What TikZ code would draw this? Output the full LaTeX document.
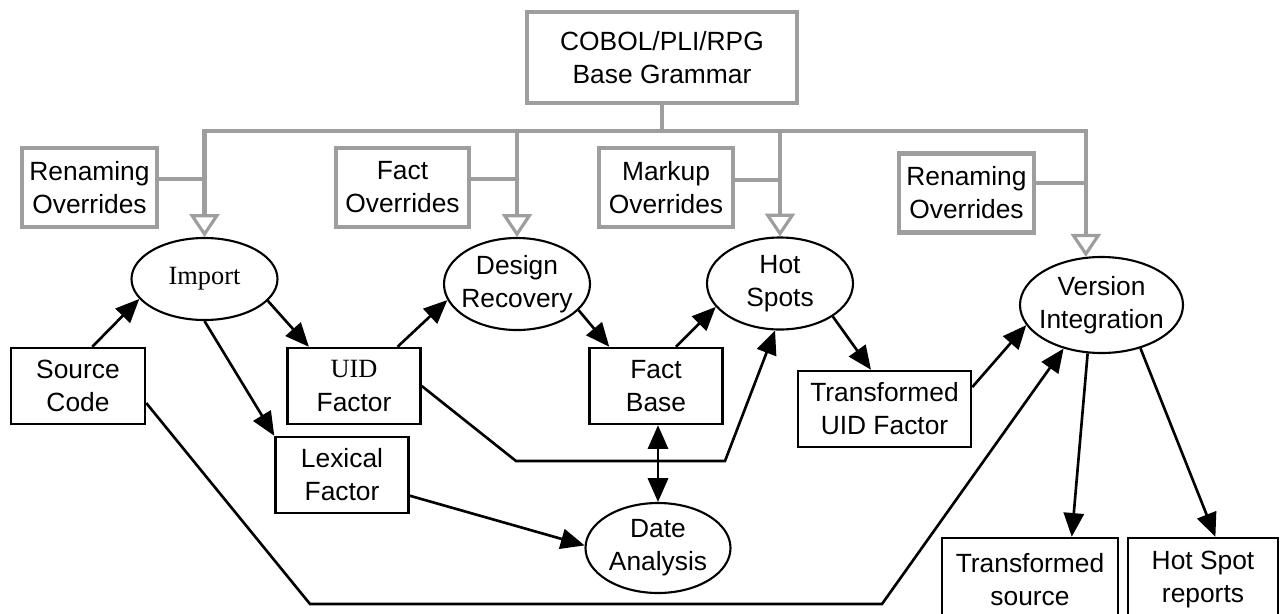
\documentclass[tikz,border=0pt]{standalone}
\usepackage{fontspec}
\setmainfont{Liberation Sans}
\newfontfamily\serifface{Liberation Serif}
\usetikzlibrary{arrows.meta,shapes.geometric}
\definecolor{ovgray}{RGB}{158,158,158}
\tikzset{>={Triangle[length=13.5pt,width=11.5pt]}}
\tikzset{box/.style={draw, line width=1.4pt, inner sep=0pt, align=center,
    minimum width=26.6mm, minimum height=15.2mm}}
\tikzset{ovbox/.style={draw=ovgray, line width=2.3pt, inner sep=0pt, align=center,
    minimum width=27mm, minimum height=15.8mm}}
\tikzset{oval/.style={ellipse, draw, line width=1.2pt, inner xsep=-3mm, inner ysep=0pt,
    align=center, minimum width=29.2mm, minimum height=18.4mm}}
\tikzset{flow/.style={->, line width=1.5pt}}
\tikzset{ovline/.style={draw=ovgray, line width=2.3pt}}
\tikzset{ovarrow/.style={ovline, -{Triangle[open,length=13pt,width=17pt,line width=1.8pt]}}}

\begin{document}
\begin{tikzpicture}[x=0.2mm, y=-0.2mm, font=\fontsize{15}{18.8}\selectfont]
  \clip (0,0) rectangle (1280,614);

  % grammar and overrides
  \node[ovbox, minimum width=54mm, minimum height=18.2mm] (base) at (662,57.5) {COBOL/PLI/RPG\\Base Grammar};
  \node[ovbox] (ren1) at (89.5,187.5) {Renaming\\Overrides};
  \node[ovbox, minimum width=26.6mm] (fov) at (402.5,187.5) {Fact\\Overrides};
  \node[ovbox, minimum width=26.8mm] (mov) at (666,187.5) {Markup\\Overrides};
  \node[ovbox] (ren2) at (966.5,193) {Renaming\\Overrides};

  % tools
  \node[oval, minimum height=16.4mm] (imp) at (204.5,279) {\serifface Import};
  \node[oval] (dr) at (517,284) {Design\\Recovery};
  \node[oval] (hot) at (780,283.5) {Hot\\Spots};
  \node[oval, minimum width=32.6mm, minimum height=19.2mm] (ver) at (1101.5,305) {Version\\Integration};
  \node[oval, minimum width=29mm, minimum height=18mm] (date) at (658,548) {Date\\Analysis};

  % data
  \node[box, minimum width=26.8mm] (src) at (78,386) {Source\\Code};
  \node[box] (uid) at (354,386) {{\serifface UID}\\Factor};
  \node[box] (fact) at (656,386) {Fact\\Base};
  \node[box] (lex) at (342,475) {Lexical\\Factor};
  \node[box, minimum width=34.6mm] (tuid) at (884.5,409) {Transformed\\UID Factor};
  \node[box, minimum width=35.2mm, minimum height=16.8mm] (ts) at (1030,580) {Transformed\\source};
  \node[box, minimum width=30mm, minimum height=16.8mm] (hsr) at (1203,580) {Hot Spot\\reports};

  % grammar inheritance
  \coordinate (bus) at (0,131);
  \draw[ovline] (base.south) -- (base.south |- bus);
  \draw[ovline, line cap=rect] (imp |- bus) -- (ver.108 |- bus);
  \draw[ovarrow] (imp |- bus) -- (imp.north);
  \draw[ovarrow] (dr |- bus) -- (dr.north);
  \draw[ovarrow] (hot |- bus) -- (hot.north);
  \draw[ovarrow] (ver.108 |- bus) -- (ver.108);
  \draw[ovline] (ren1.7) -- (ren1.7 -| imp);
  \draw[ovline] (fov.7) -- (fov.7 -| dr);
  \draw[ovline] (mov.6) -- (mov.6 -| hot);
  \draw[ovline] (ren2.8) -- (ren2.8 -| ver.108);

  % data flow
  \coordinate (k1) at (516,461);
  \coordinate (k2) at (725,461);
  \coordinate (k3) at (310,604);
  \coordinate (k4) at (882,604);
  \draw[flow] (src.70) -- (imp.197);
  \draw[flow] (imp.341) -- (uid.139);
  \draw[flow] (imp.south) -- (lex.north west);
  \draw[flow] (uid.42) -- (dr.193);
  \draw[flow] (dr.337) -- (fact.140);
  \draw[flow] (fact.63) -- (hot.200);
  \draw[flow, <->] (date.north |- fact.south) -- (date.north);
  \draw[flow] (hot.328) -- (tuid.109);
  \draw[flow] (tuid.14) -- (ver.195);
  \draw[flow] (ver.254) -- (ts.46);
  \draw[flow] (ver.312) -- (hsr.74);
  \draw[flow] (lex.343) -- (date.178);
  \draw[flow] (uid.east) -- (k1) -- (k2) -- (hot.264);
  \draw[flow] (src.346) -- (k3) -- (k4) -- (ver.229);
\end{tikzpicture}
\end{document}
